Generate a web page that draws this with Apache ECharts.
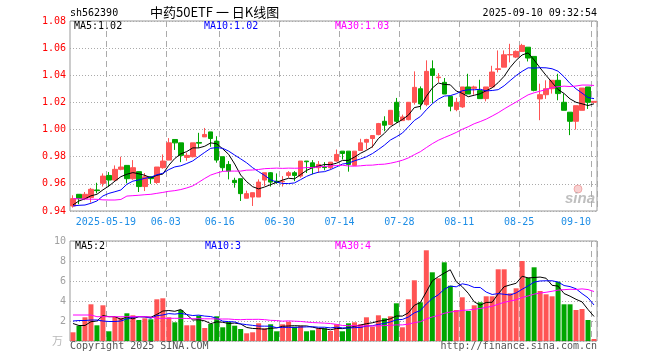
<!DOCTYPE html>
<html><head><meta charset="utf-8">
<script src="https://cdn.jsdelivr.net/npm/echarts@6/dist/echarts.min.js"></script>
<style>html,body{margin:0;padding:0;background:#fff}#c{width:660px;height:360px}</style>
</head><body><div id="c"></div>
<script>
const dates = [
'2025-05-09','2025-05-12','2025-05-13','2025-05-14','2025-05-15','2025-05-16','2025-05-19','2025-05-20','2025-05-21','2025-05-22',
'2025-05-23','2025-05-26','2025-05-27','2025-05-28','2025-05-29','2025-05-30','2025-06-03','2025-06-04','2025-06-05','2025-06-06',
'2025-06-09','2025-06-10','2025-06-11','2025-06-12','2025-06-13','2025-06-16','2025-06-17','2025-06-18','2025-06-19','2025-06-20',
'2025-06-23','2025-06-24','2025-06-25','2025-06-26','2025-06-27','2025-06-30','2025-07-01','2025-07-02','2025-07-03','2025-07-04',
'2025-07-07','2025-07-08','2025-07-09','2025-07-10','2025-07-11','2025-07-14','2025-07-15','2025-07-16','2025-07-17','2025-07-18',
'2025-07-21','2025-07-22','2025-07-23','2025-07-24','2025-07-25','2025-07-28','2025-07-29','2025-07-30','2025-07-31','2025-08-01',
'2025-08-04','2025-08-05','2025-08-06','2025-08-07','2025-08-08','2025-08-11','2025-08-12','2025-08-13','2025-08-14','2025-08-15',
'2025-08-18','2025-08-19','2025-08-20','2025-08-21','2025-08-22','2025-08-25','2025-08-26','2025-08-27','2025-08-28','2025-08-29',
'2025-09-01','2025-09-02','2025-09-03','2025-09-04','2025-09-05','2025-09-08','2025-09-09','2025-09-10'];

const opens = [
0.9437,0.9523,0.9491,0.9500,0.9555,0.9604,0.9662,0.9628,0.9707,0.9736,
0.9638,0.9690,0.9580,0.9652,0.9610,0.9719,0.9775,0.9927,0.9902,0.9795,
0.9800,0.9905,0.9946,0.9983,0.9915,0.9800,0.9743,0.9626,0.9638,0.9494,
0.9503,0.9503,0.9628,0.9682,0.9620,0.9616,0.9662,0.9682,0.9657,0.9768,
0.9755,0.9719,0.9725,0.9719,0.9768,0.9841,0.9841,0.9736,0.9846,0.9907,
0.9934,0.9963,1.0061,1.0037,1.0201,1.0066,1.0073,1.0201,1.0301,1.0184,
1.0448,1.0382,1.0348,1.0245,1.0147,1.0167,1.0314,1.0304,1.0287,1.0228,
1.0314,1.0443,1.0460,1.0550,1.0534,1.0576,1.0607,1.0539,1.0226,1.0257,
1.0301,1.0363,1.0201,1.0128,1.0061,1.0142,1.0314,1.0201];
const closes = [
0.9491,0.9491,0.9523,0.9560,0.9550,0.9657,0.9628,0.9707,0.9724,0.9638,
0.9719,0.9580,0.9652,0.9638,0.9724,0.9768,0.9902,0.9902,0.9810,0.9810,
0.9902,0.9900,0.9964,0.9934,0.9775,0.9719,0.9694,0.9609,0.9528,0.9528,
0.9535,0.9613,0.9682,0.9613,0.9610,0.9620,0.9682,0.9662,0.9768,0.9763,
0.9719,0.9743,0.9720,0.9760,0.9817,0.9824,0.9743,0.9841,0.9902,0.9927,
0.9956,1.0044,1.0032,1.0142,1.0061,1.0093,1.0201,1.0311,1.0189,1.0429,
1.0399,1.0387,1.0262,1.0172,1.0201,1.0314,1.0262,1.0314,1.0228,1.0314,
1.0424,1.0448,1.0551,1.0553,1.0576,1.0620,1.0527,1.0289,1.0257,1.0301,
1.0363,1.0265,1.0142,1.0061,1.0176,1.0306,1.0201,1.0208];
const lows = [
0.9425,0.9450,0.9480,0.9462,0.9530,0.9580,0.9580,0.9620,0.9700,0.9604,
0.9630,0.9540,0.9547,0.9600,0.9600,0.9712,0.9775,0.9850,0.9760,0.9770,
0.9795,0.9866,0.9946,0.9873,0.9756,0.9694,0.9633,0.9572,0.9474,0.9494,
0.9437,0.9503,0.9584,0.9580,0.9600,0.9580,0.9645,0.9620,0.9645,0.9680,
0.9670,0.9680,0.9700,0.9705,0.9763,0.9780,0.9690,0.9731,0.9846,0.9853,
0.9866,0.9958,0.9988,1.0032,1.0049,1.0066,1.0068,1.0184,1.0147,1.0172,
1.0196,1.0348,1.0262,1.0135,1.0135,1.0160,1.0262,1.0257,1.0228,1.0208,
1.0314,1.0421,1.0460,1.0495,1.0527,1.0576,1.0502,1.0282,1.0069,1.0226,
1.0265,1.0216,1.0142,0.9959,1.0000,1.0142,1.0152,1.0196];
const highs = [
0.9516,0.9523,0.9540,0.9570,0.9608,0.9677,0.9687,0.9736,0.9800,0.9736,
0.9775,0.9690,0.9680,0.9657,0.9724,0.9817,0.9937,0.9927,0.9902,0.9830,
0.9902,0.9976,1.0012,0.9983,0.9951,0.9800,0.9768,0.9645,0.9638,0.9550,
0.9535,0.9633,0.9682,0.9687,0.9677,0.9657,0.9694,0.9694,0.9768,0.9768,
0.9775,0.9768,0.9760,0.9760,0.9853,0.9841,0.9841,0.9841,0.9932,0.9932,
0.9956,1.0049,1.0098,1.0142,1.0233,1.0110,1.0201,1.0429,1.0318,1.0510,
1.0510,1.0416,1.0380,1.0245,1.0233,1.0314,1.0411,1.0323,1.0367,1.0314,
1.0470,1.0583,1.0583,1.0632,1.0583,1.0632,1.0607,1.0539,1.0338,1.0363,
1.0363,1.0411,1.0265,1.0128,1.0176,1.0306,1.0314,1.0208];
const volumes = [
0.87,1.53,2.37,3.67,1.57,3.57,0.97,2.40,2.33,2.77,
2.57,2.10,2.27,2.17,4.17,4.27,2.37,1.87,3.10,1.57,
1.57,2.53,1.30,1.70,2.47,1.37,1.90,1.53,1.20,0.77,
0.87,1.77,1.27,1.67,0.97,1.67,1.93,1.43,1.53,0.97,
1.07,1.27,1.27,1.00,1.67,0.97,1.77,1.87,1.67,2.37,
1.43,2.57,2.27,2.47,3.77,1.37,4.17,6.07,3.87,9.07,
6.87,6.27,7.87,5.53,3.10,4.37,3.00,3.57,3.87,4.47,
4.47,7.17,7.17,4.77,5.27,8.00,6.33,7.37,5.00,4.67,
4.47,5.93,3.67,3.67,3.10,3.20,2.10,0.20];

// Moving-average values before enough history exists
const priceMa5Lead = [0.9445,0.9474,0.9490,0.9512];
const priceMa10Lead = [0.9437,0.9442,0.9444,0.9457,0.9474,0.9511,0.9530,0.9542,0.9555];
const priceMa30Lead = [0.9490,0.9490,0.9488,0.9487,0.9486,0.9482,0.9481,0.9481,0.9485,0.9510,
0.9513,0.9516,0.9520,0.9523,0.9530,0.9537,0.9545,0.9550,0.9558,0.9570,
0.9585,0.9612,0.9640,0.9665,0.9680,0.9692,0.9694,0.9694,0.9694];
const volMa5Lead = [1.75,1.55,1.55,1.93];
const volMa10Lead = [2.00,2.05,2.05,2.10,2.10,2.00,1.95,1.95,2.00];
const volMa30Lead = [2.60,2.60,2.60,2.60,2.43,2.43,2.43,2.43,2.43,2.43,
2.43,2.43,2.43,2.40,2.27,2.27,2.27,2.27,2.27,2.25,
2.23,2.23,2.22,2.22,2.20,2.20,2.20,2.15,2.13];

const tickIndex = [6,16,25,35,45,55,65,75,87];
const tickText = ['2025-05-19','06-03','06-16','06-30','07-14','07-28','08-11','08-25','09-10'];

function movingAvg(vals, n, lead, dp) {
  return vals.map((v, i) => {
    if (i < n - 1) return lead[i];
    let s = 0;
    for (let k = i - n + 1; k <= i; k++) s += vals[k];
    return +(s / n).toFixed(dp);
  });
}

const UP = '#ff5454', DOWN = '#00a600';
const MONO = '"DejaVu Sans Mono", monospace';
const isTick = (i) => tickIndex.indexOf(i) >= 0;

const candleData = dates.map((d, i) => [opens[i], closes[i], lows[i], highs[i]]);
const volData = volumes.map((v, i) => ({ value: v, itemStyle: { color: closes[i] >= opens[i] ? UP : DOWN } }));

function maLine(name, data, color, xi, yi) {
  return { name, type: 'line', data, xAxisIndex: xi, yAxisIndex: yi, showSymbol: false, symbol: 'none',
    smooth: false, lineStyle: { color, width: 1 }, itemStyle: { color }, z: 5, silent: true };
}

function txt(x, y, text, fill, font, align) {
  return { type: 'text', x, y, z: 100, silent: true,
    style: { text, fill, font, align: align || 'left', verticalAlign: 'middle' } };
}

const splitX = { show: true, interval: (i) => isTick(i), lineStyle: { color: '#aaa', width: 1, type: [6, 4] } };
const splitY = { show: true, lineStyle: { color: '#aaa', width: 1, type: [1, 2] } };

const chart = echarts.init(document.getElementById('c'), null, { renderer: 'canvas' });
chart.setOption({
  animation: false,
  backgroundColor: '#fff',
  grid: [
    { left: 70, right: 63, top: 21, height: 190, show: true, borderColor: '#999', borderWidth: 1, backgroundColor: 'transparent' },
    { left: 70, right: 63, top: 241, height: 100, show: true, borderColor: '#999', borderWidth: 1, backgroundColor: 'transparent' }
  ],
  xAxis: [
    { type: 'category', gridIndex: 0, data: dates, boundaryGap: true,
      axisLine: { show: false }, axisTick: { show: false, interval: (i) => isTick(i) },
      axisLabel: { show: true, interval: (i) => isTick(i), margin: 6, color: '#1e8ee6',
        fontFamily: MONO, fontSize: 10,
        formatter: (v, i) => { const k = tickIndex.indexOf(i); if (k < 0) return ''; return (k === tickIndex.length - 1 ? '{r|' : '{c|') + tickText[k] + '}'; },
        rich: { c: { padding: [0, 6, 0, 0], color: '#1e8ee6', fontFamily: MONO, fontSize: 10 },
                r: { padding: [0, 36, 0, 0], color: '#1e8ee6', fontFamily: MONO, fontSize: 10 } } },
      splitLine: splitX },
    { type: 'category', gridIndex: 1, data: dates, boundaryGap: true,
      axisLine: { show: false }, axisTick: { show: false, interval: (i) => isTick(i) },
      axisLabel: { show: false }, splitLine: splitX }
  ],
  yAxis: [
    { type: 'value', gridIndex: 0, min: 0.94, max: 1.08, interval: 0.02, scale: false,
      axisLine: { show: false }, axisTick: { show: false },
      axisLabel: { color: '#ff0000', fontFamily: MONO, fontSize: 10, margin: 4, formatter: (v) => v.toFixed(2) },
      splitLine: splitY },
    { type: 'value', gridIndex: 1, min: 0, max: 10, interval: 2,
      axisLine: { show: false }, axisTick: { show: false },
      axisLabel: { color: '#a0a0a0', fontFamily: MONO, fontSize: 10, margin: 4, formatter: (v) => v === 0 ? '' : String(v) },
      splitLine: splitY }
  ],
  series: [
    { name: 'K', type: 'candlestick', data: candleData, xAxisIndex: 0, yAxisIndex: 0, barWidth: 5, z: 3,
      itemStyle: { color: UP, color0: DOWN, borderColor: UP, borderColor0: DOWN, borderColorDoji: UP, borderWidth: 1 }, silent: true },
    maLine('MA5', movingAvg(closes, 5, priceMa5Lead, 4), '#000000', 0, 0),
    maLine('MA10', movingAvg(closes, 10, priceMa10Lead, 4), '#0000ff', 0, 0),
    maLine('MA30', movingAvg(closes, 30, priceMa30Lead, 4), '#ff00ff', 0, 0),
    { name: 'VOL', type: 'bar', data: volData, xAxisIndex: 1, yAxisIndex: 1, barWidth: 5, z: 3, silent: true },
    maLine('VMA5', movingAvg(volumes, 5, volMa5Lead, 3), '#000000', 1, 1),
    maLine('VMA10', movingAvg(volumes, 10, volMa10Lead, 3), '#0000ff', 1, 1),
    maLine('VMA30', movingAvg(volumes, 30, volMa30Lead, 3), '#ff00ff', 1, 1)
  ],
  graphic: [
    txt(70, 13, 'sh562390', '#000', '10px ' + MONO),
    txt(150, 12.5, '中药50ETF 一 日K线图', '#000', '13px "Noto Sans CJK SC"'),
    txt(597, 13, '2025-09-10 09:32:54', '#000', '10px ' + MONO, 'right'),
    txt(74, 26.5, 'MA5:1.02', '#000000', '10px ' + MONO),
    txt(204, 26.5, 'MA10:1.02', '#0000ff', '10px ' + MONO),
    txt(335, 26.5, 'MA30:1.03', '#ff00ff', '10px ' + MONO),
    txt(75, 246, 'MA5:2', '#000000', '10px ' + MONO),
    txt(205, 246, 'MA10:3', '#0000ff', '10px ' + MONO),
    txt(335, 246, 'MA30:4', '#ff00ff', '10px ' + MONO),
    txt(63, 341, '万', '#b8b8b8', '11px "Noto Sans CJK SC"', 'right'),
    txt(70, 346, 'Copyright 2025 SINA.COM', '#555', '10px ' + MONO),
    txt(597, 346, 'http://finance.sina.com.cn', '#555', '10px ' + MONO, 'right'),
    { type: 'circle', x: 578, y: 189, z: 90, silent: true, shape: { r: 4 }, style: { fill: 'rgba(240,150,150,0.45)', stroke: 'rgba(230,120,120,0.5)', lineWidth: 1 } },
    txt(565, 199, 'sina', 'rgba(170,170,170,0.75)', 'italic bold 15px "Liberation Sans"')
  ]
});
</script></body></html>
